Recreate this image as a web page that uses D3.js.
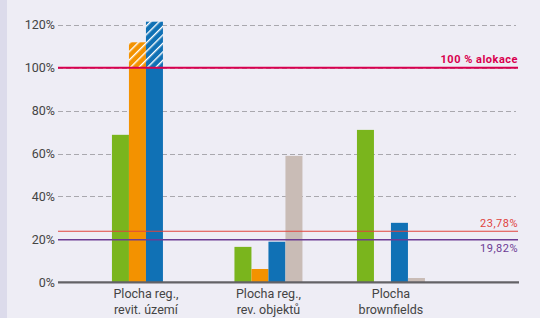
<!DOCTYPE html>
<html>
<head>
<meta charset="utf-8">
<script src="https://cdn.jsdelivr.net/npm/d3@7"></script>
<style>
  body { margin: 0; background: #EEEDF5; }
  svg { display: block; font-family: Roboto, "Liberation Sans", sans-serif; }
</style>
</head>
<body>
<div id="chart"></div>
<script>
// categories and series (values in %)
const categories = ["Plocha reg., revit. území", "Plocha reg., rev. objektů", "Plocha brownfields"];
const categoryLines = [["Plocha reg.,", "revit. území"], ["Plocha reg.,", "rev. objektů"], ["Plocha", "brownfields"]];
const seriesNames = ["s1", "s2", "s3", "s4"];
const seriesColors = ["#7AB51D", "#F39200", "#1071B5", "#C9BCB6"];
const s1 = [68.7, 16.5, 71.0];
const s2 = [111.8, 6.2, 0];
const s3 = [121.4, 18.9, 27.7];
const s4 = [0, 58.9, 2.0];
const yTicks = [0, 20, 40, 60, 80, 100, 120];
const refLines = [
  { value: 100, label: "100 % alokace", color: "#D9004F", width: 2, bold: true, dy: -5 },
  { value: 23.78, label: "23,78%", color: "#E0433D", width: 1.2, bold: false, dy: -4 },
  { value: 19.82, label: "19,82%", color: "#6C3C94", width: 1.5, bold: false, dy: 12 }
];
const cap = 100; // above this the bar is hatched

const W = 540, H = 318;
const plotLeft = 58, plotRight = 518, plotBottom = 282.3;

const svg = d3.select('#chart').append('svg')
  .attr('width', W).attr('height', H);

// left band
svg.append('rect').attr('x', 0).attr('y', 0).attr('width', 7).attr('height', H).attr('fill', '#DCDBEB');

// hatch patterns
const defs = svg.append('defs');
seriesColors.forEach((c, i) => {
  const p = defs.append('pattern')
    .attr('id', 'hatch' + i)
    .attr('patternUnits', 'userSpaceOnUse')
    .attr('width', 6).attr('height', 6)
    .attr('patternTransform', 'rotate(45)');
  p.append('rect').attr('width', 6).attr('height', 6).attr('fill', c);
  p.append('rect').attr('x', 0).attr('width', 1.4).attr('height', 6).attr('fill', '#fff');
});

const y = d3.scaleLinear().domain([0, 120]).range([plotBottom, 24.7]);

const x = d3.scaleBand().domain(categories).range([plotLeft, plotRight])
  .paddingInner(0.445).paddingOuter(0.6).align(0.367);
const xs = d3.scaleBand().domain(seriesNames).range([0, x.bandwidth()]).padding(0);

// gridlines
svg.append('g')
  .selectAll('line')
  .data(yTicks.filter(d => d > 0))
  .enter().append('line')
  .attr('x1', plotLeft).attr('x2', 516)
  .attr('y1', d => Math.round(y(d)) + 0.5).attr('y2', d => Math.round(y(d)) + 0.5)
  .attr('stroke', '#A9A8AE').attr('stroke-width', 1)
  .attr('stroke-dasharray', '5,3');

// y tick labels
const yAxis = svg.append('g')
  .attr('transform', `translate(${plotLeft},0)`)
  .call(d3.axisLeft(y).tickValues(yTicks).tickSize(0).tickPadding(3).tickFormat(d => d + '%'));
yAxis.select('.domain').remove();
yAxis.attr('font-family', null);
yAxis.selectAll('text').attr('font-size', 12.5).attr('fill', '#444');

// bars
const rows = categories.map((c, i) => ({ cat: c, vals: [s1[i], s2[i], s3[i], s4[i]] }));
const groups = svg.append('g').selectAll('g')
  .data(rows).enter().append('g')
  .attr('transform', d => `translate(${x(d.cat)},0)`);

groups.selectAll('.bar')
  .data(d => d.vals.map((v, k) => ({ v, k })))
  .enter().append('rect')
  .attr('class', 'bar')
  .attr('x', d => xs(seriesNames[d.k]))
  .attr('width', xs.bandwidth())
  .attr('y', d => y(Math.min(d.v, cap)))
  .attr('height', d => plotBottom - y(Math.min(d.v, cap)))
  .attr('fill', d => seriesColors[d.k]);

groups.selectAll('.over')
  .data(d => d.vals.map((v, k) => ({ v, k })).filter(e => e.v > cap))
  .enter().append('rect')
  .attr('class', 'over')
  .attr('x', d => xs(seriesNames[d.k]))
  .attr('width', xs.bandwidth())
  .attr('y', d => y(d.v))
  .attr('height', d => y(cap) - y(d.v))
  .attr('fill', d => `url(#hatch${d.k})`);

// reference lines
refLines.forEach(r => {
  svg.append('line')
    .attr('x1', plotLeft).attr('x2', plotRight)
    .attr('y1', y(r.value)).attr('y2', y(r.value))
    .attr('stroke', r.color).attr('stroke-width', r.width);
  svg.append('text')
    .attr('x', plotRight).attr('y', y(r.value) + r.dy)
    .attr('text-anchor', 'end')
    .attr('font-size', 11)
    .attr('font-weight', r.bold ? 'bold' : 'normal')
    .attr('letter-spacing', 0.5)
    .attr('fill', r.color)
    .text(r.label);
});

// x axis line
svg.append('line')
  .attr('x1', plotLeft).attr('x2', 519)
  .attr('y1', plotBottom).attr('y2', plotBottom)
  .attr('stroke', '#636266').attr('stroke-width', 2.2);

// category labels
categories.forEach((c, i) => {
  const cx = x(c) + x.bandwidth() / 2;
  const t = svg.append('text')
    .attr('x', cx)
    .attr('y', 298)
    .attr('text-anchor', 'middle')
    .attr('font-size', 12.5)
    .attr('fill', '#444');
  categoryLines[i].forEach((ln, j) => {
    t.append('tspan').attr('x', cx).attr('dy', j === 0 ? 0 : 16).text(ln);
  });
});
</script>
</body>
</html>
